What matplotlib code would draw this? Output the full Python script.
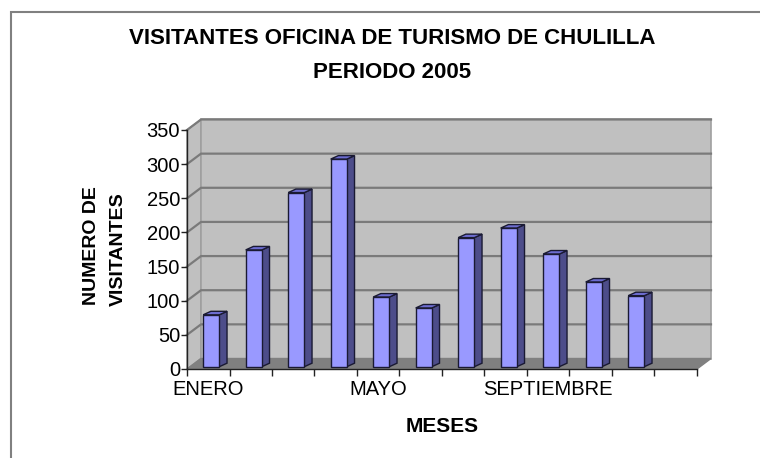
import numpy as np
import matplotlib
matplotlib.use("Agg")
import matplotlib.pyplot as plt
from matplotlib.patches import Polygon, Rectangle

plt.rcParams['font.family'] = ['Liberation Sans', 'DejaVu Sans']

# data
meses = ['ENERO', 'FEBRERO', 'MARZO', 'ABRIL', 'MAYO', 'JUNIO', 'JULIO',
         'AGOSTO', 'SEPTIEMBRE', 'OCTUBRE', 'NOVIEMBRE', 'DICIEMBRE']
visitantes = [76, 171, 255, 304, 102, 86, 189, 203, 165, 124, 104]
yticks = [0, 50, 100, 150, 200, 250, 300, 350]

W, H = 760, 458
fig = plt.figure(figsize=(W / 100, H / 100), dpi=100)
fig.patch.set_facecolor('white')

# front plane of the plot in pixels
x0, x1, ytop, ybot = 187, 697, 130, 369
ax = fig.add_axes([x0 / W, (H - ybot) / H, (x1 - x0) / W, (ybot - ytop) / H])
ax.set_xlim(0, len(meses))
ax.set_ylim(0, 350)
ax.patch.set_visible(False)

px_x = (x1 - x0) / len(meses)
px_y = (ybot - ytop) / 350.0


def off(dx, dy):
    # pixel offset (right, up) -> data units
    return dx / px_x, dy / px_y


n = len(meses)
wdx, wdy = off(14, 10.5)

# side wall, back wall, floor
ax.add_patch(Polygon([(0, 0), (0, 350), (wdx, 350 + wdy), (wdx, wdy)],
                     closed=True, fc='#c0c0c0', ec='#909090', lw=1, zorder=0, clip_on=False))
ax.add_patch(Rectangle((wdx, wdy), n, 350, fc='#c0c0c0', ec='#a0a0a0', lw=1.2,
                       zorder=0, clip_on=False))
ax.add_patch(Polygon([(0, 0), (n, 0), (n + wdx, wdy), (wdx, wdy)],
                     closed=True, fc='#808080', ec='#808080', lw=1, zorder=1, clip_on=False))

for v in yticks[1:]:
    ax.plot([0, wdx, n + wdx], [v, v + wdy, v + wdy], color='#7a7a7a', lw=1.6,
            zorder=1, clip_on=False)

# 3D-looking columns
fdx, fdy = off(3, 2.3)
bdx, bdy = off(10.7, 5.8)
bw = 0.38
xs = np.arange(len(visitantes)) + 0.5 - bw / 2
ax.bar(xs + fdx, visitantes, bottom=fdy, width=bw, align='edge', color='#9999ff',
       edgecolor='#1a1a33', lw=1, zorder=4)
for x, v in zip(xs, visitantes):
    xr = x + bw
    ax.add_patch(Polygon([(xr + fdx, fdy), (xr + bdx, bdy), (xr + bdx, v + bdy), (xr + fdx, v + fdy)],
                         closed=True, fc='#4d4d8a', ec='#1a1a33', lw=1, zorder=3))
    ax.add_patch(Polygon([(x + fdx, v + fdy), (xr + fdx, v + fdy), (xr + bdx, v + bdy), (x + bdx, v + bdy)],
                         closed=True, fc='#6c6cd0', ec='#1a1a33', lw=1, zorder=3))

# axes
for s in ['top', 'right']:
    ax.spines[s].set_visible(False)
for s in ['left', 'bottom']:
    ax.spines[s].set_color('#222222')
    ax.spines[s].set_linewidth(1)
    ax.spines[s].set_zorder(2)

ax.set_yticks(yticks)
ax.set_yticklabels([str(v) for v in yticks])
ax.tick_params(axis='y', length=4, width=1, color='#222222', labelsize=14.5, pad=1)

ax.set_xticks(np.arange(n) + 0.5)
ax.set_xticklabels([m if i % 4 == 0 else '' for i, m in enumerate(meses)])
ax.set_xticks(np.arange(n + 1), minor=True)
ax.tick_params(axis='x', which='major', length=0, labelsize=14.5, pad=8)
ax.tick_params(axis='x', which='minor', length=5, width=1, color='#222222')

# text
fig.text(392 / W, 1 - 38 / H, 'VISITANTES OFICINA DE TURISMO DE CHULILLA',
         ha='center', va='center', fontsize=16, fontweight='bold')
fig.text(392 / W, 1 - 72 / H, 'PERIODO 2005',
         ha='center', va='center', fontsize=16, fontweight='bold')
fig.text(91 / W, 1 - 246 / H, 'NUMERO DE', rotation=90, ha='center',
         va='center', fontsize=14, fontweight='bold')
fig.text(118 / W, 1 - 249 / H, 'VISITANTES', rotation=90, ha='center',
         va='center', fontsize=14, fontweight='bold')
fig.text(442 / W, 1 - 427 / H, 'MESES', ha='center', va='center',
         fontsize=15, fontweight='bold')

# chart area border
fig.add_artist(Rectangle((11 / W, -0.1), 1.2, 1 - 12 / H + 0.1, transform=fig.transFigure,
                         fill=False, ec='#808080', lw=1.5))

fig.savefig('out.png', dpi=100)
